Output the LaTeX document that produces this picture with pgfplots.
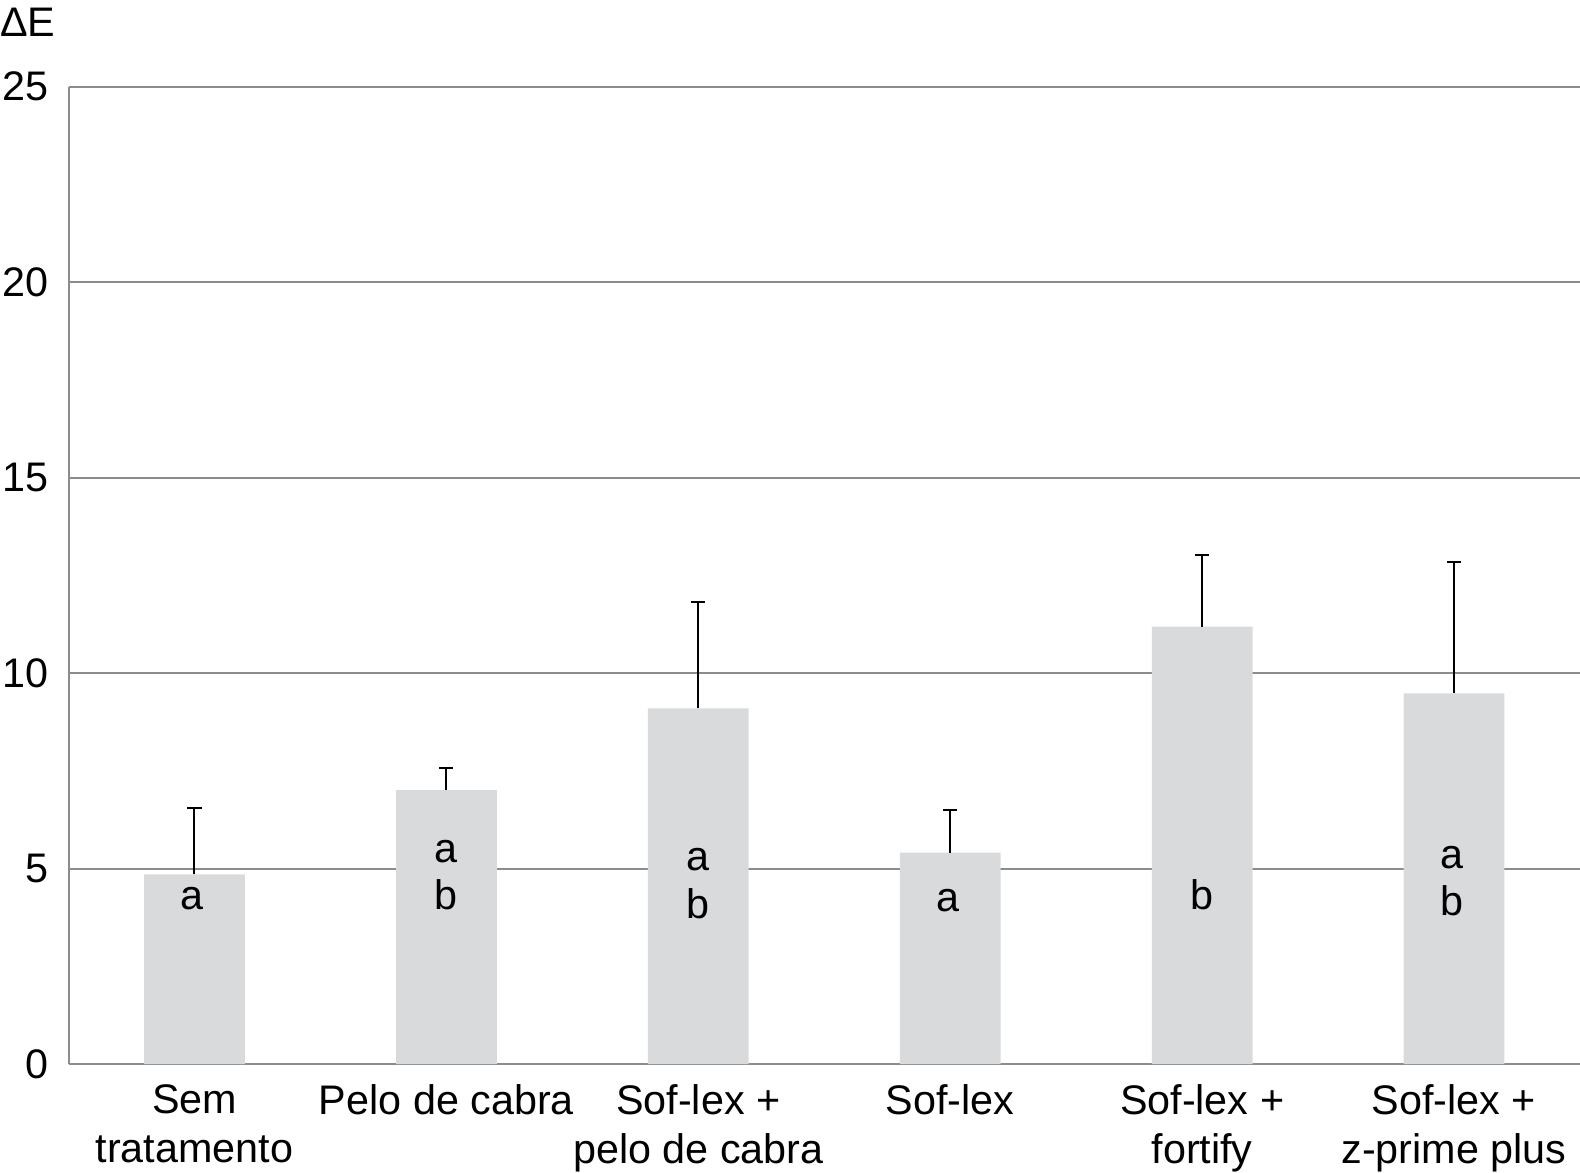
\documentclass[border=0pt]{standalone}
\usepackage{pgfplots}
\pgfplotsset{compat=1.18}
\usepackage{fontspec}
\setmainfont{Liberation Sans}
\definecolor{barfill}{RGB}{217,218,220}
\definecolor{gridgray}{RGB}{140,140,140}

\begin{document}%
\fontsize{20.5bp}{24.5bp}\selectfont%
\begin{tikzpicture}
\begin{axis}[
    scale only axis,
    width=750bp, height=485bp,
    xmin=-0.5, xmax=5.5,
    ymin=0, ymax=25,
    ytick={0,5,10,15,20,25},
    xtick={0,1,2,3,4,5},
    xticklabels={{Sem\\tratamento},{Pelo de cabra},{Sof-lex +\\pelo de cabra},{Sof-lex},{Sof-lex +\\fortify},{Sof-lex +\\z-prime plus}},
    xticklabel style={align=center, font=\fontsize{20.5bp}{24.5bp}\selectfont, yshift=-3bp},
    yticklabel style={font=\fontsize{20.5bp}{24.5bp}\selectfont, xshift=-3bp},
    /pgf/number format/assume math mode=true,
    major tick length=0pt,
    axis x line*=bottom, axis y line*=left,
    axis line style={gridgray, line width=1bp, -},
    ymajorgrids,
    grid style={gridgray, line width=1bp},
    ybar, bar width=50bp,
    clip=false,
]
\addplot[fill=barfill, draw=none,
    error bars/.cd, y dir=plus, y explicit,
    error bar style={black, line width=1bp},
    error mark options={rotate=90, mark size=3.5bp, line width=1bp, black}]
  table[x=x, y=y, y error=e] {
    x y e
    0 4.85 1.70
    1 7.01 0.57
    2 9.10 2.73
    3 5.41 1.08
    4 11.19 1.83
    5 9.48 3.36
};
\node[anchor=center] at (axis cs:-0.01,4.23) {a};
\node[anchor=center] at (axis cs:1.0,5.44) {a};
\node[anchor=center] at (axis cs:1.0,4.33) {b};
\node[anchor=center] at (axis cs:2.0,5.23) {a};
\node[anchor=center] at (axis cs:2.0,4.10) {b};
\node[anchor=center] at (axis cs:2.99,4.17) {a};
\node[anchor=center] at (axis cs:4.0,4.33) {b};
\node[anchor=center] at (axis cs:4.99,5.28) {a};
\node[anchor=center] at (axis cs:4.99,4.18) {b};
\node[anchor=base west, inner sep=0pt] at ([xshift=-34bp, yshift=25bp]rel axis cs:0,1) {ΔE};
\coordinate (sw) at (rel axis cs:0,0);
\coordinate (ne) at (rel axis cs:1,1);
\end{axis}
\pgfresetboundingbox
\path ([xshift=-34bp, yshift=-54bp]sw) rectangle ([xshift=0bp, yshift=43bp]ne);
\end{tikzpicture}%
\end{document}
